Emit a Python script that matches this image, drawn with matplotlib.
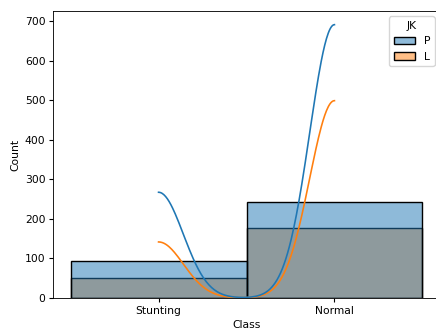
import pandas as pd
import matplotlib
matplotlib.use("Agg")
import matplotlib.pyplot as plt
import seaborn as sns

# counts
classes = ["Stunting", "Normal"]
jk_levels = ["P", "L"]
counts_p = [94, 243]
counts_l = [50, 176]

rows = []
for cls, cp, cl in zip(classes, counts_p, counts_l):
    rows += [(cls, "P")] * cp
    rows += [(cls, "L")] * cl
df = pd.DataFrame(rows, columns=["Class", "JK"])

scale = 0.777
plt.rcParams["font.size"] = 10 * scale
plt.rcParams["axes.linewidth"] = 0.8 * scale
plt.rcParams["lines.linewidth"] = 1.5 * scale
plt.rcParams["xtick.major.size"] = 3.5 * scale
plt.rcParams["ytick.major.size"] = 3.5 * scale
plt.rcParams["xtick.major.pad"] = 3.5 * scale
plt.rcParams["ytick.major.pad"] = 3.5 * scale
plt.rcParams["axes.labelpad"] = 4 * scale

fig = plt.figure(figsize=(4.36, 3.29), dpi=100)
# the reference is a crop, right spine falls just outside the image
ax = fig.add_axes([53 / 436, 31 / 329, 387 / 436, 287 / 329])
sns.histplot(data=df, x="Class", hue="JK", hue_order=jk_levels, kde=True, ax=ax)

fig.savefig("out.png", dpi=100)
